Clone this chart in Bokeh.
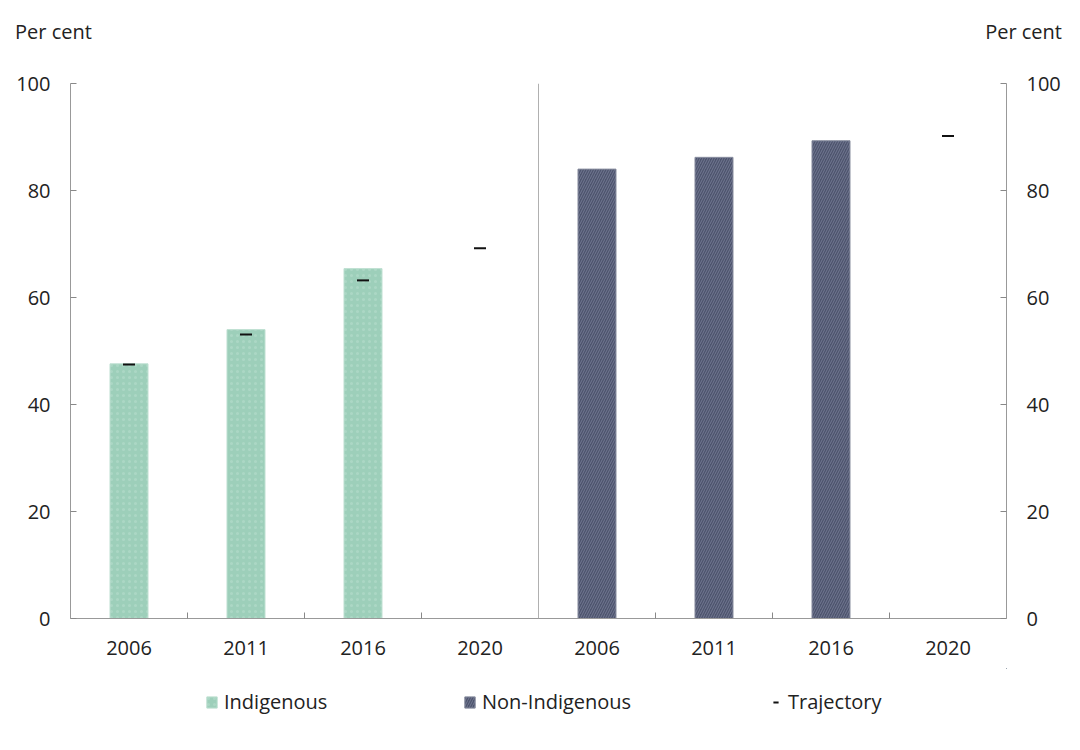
from bokeh.plotting import figure
from bokeh.models import (ColumnDataSource, FixedTicker, LinearAxis, Range1d, Span,
                          Legend, LegendItem, Div)
from bokeh.layouts import column
from bokeh.embed import file_html
from bokeh.resources import INLINE

# ---- data ----
years = ["2006", "2011", "2016", "2020"]
indigenous = [47.6, 54.0, 65.4]
non_indigenous = [84.0, 86.2, 89.3]
traj_indigenous = [47.5, 53.1, 63.2, 69.2]
traj_non_indigenous = [90.2]
y_ticks = [0, 20, 40, 60, 80, 100]
unit_label = "Per cent"
series_names = ["Indigenous", "Non-Indigenous", "Trajectory"]

FONT = "Open Sans"
FS = "20px"
TXT = "#222222"
IND_COLOR = "#9dcfba"
NON_COLOR = "#4d546d"
n = len(years)
ind_x = [i + 0.5 for i in range(len(indigenous))]
non_x = [n + i + 0.5 for i in range(len(non_indigenous))]
traj_ind_x = [i + 0.5 for i in range(len(traj_indigenous))]
traj_non_x = [n + 3 + 0.5]

ind_style = dict(fill_color=IND_COLOR, line_color="#bfe0d2", line_width=1, hatch_pattern=".",
                 hatch_color="#b9dfcf", hatch_scale=6, hatch_alpha=0.5)
non_style = dict(fill_color=NON_COLOR, line_color="#8a8fa0", line_width=1, hatch_pattern="/",
                 hatch_color="#7a809a", hatch_scale=5, hatch_weight=1, hatch_alpha=0.8)
traj_style = dict(marker="dash", size=12, line_color="#111111", line_width=2)

header = Div(text=(
    f'<div style="position:relative;width:1064px;height:44px;font-family:\'{FONT}\';'
    f'font-size:{FS};color:{TXT};line-height:26px;">'
    f'<span style="position:absolute;left:15px;top:19px;">{unit_label}</span>'
    f'<span style="position:absolute;right:2px;top:19px;">{unit_label}</span></div>'),
    width=1064, height=44, margin=0)

p = figure(width=1064, height=624, output_backend="svg", toolbar_location=None,
           x_range=Range1d(0, 2 * n), y_range=Range1d(0, 100),
           min_border_left=70, min_border_right=58, min_border_top=39, min_border_bottom=50,
           outline_line_color=None, background_fill_color="white", margin=0)
p.grid.grid_line_color = None

src_ind = ColumnDataSource(dict(x=ind_x, top=indigenous))
src_non = ColumnDataSource(dict(x=non_x, top=non_indigenous))
src_traj = ColumnDataSource(dict(x=traj_ind_x + traj_non_x, y=traj_indigenous + traj_non_indigenous))
p.vbar(x="x", top="top", width=0.325, source=src_ind, **ind_style)
p.vbar(x="x", top="top", width=0.325, source=src_non, **non_style)
p.scatter(x="x", y="y", source=src_traj, **traj_style)

# divider between panels
p.add_layout(Span(location=n, dimension="height", line_color="#b0b0b0", line_width=1))

# x axis: labels at centres, small ticks at category boundaries
labels = {i + 0.5: years[i % n] for i in range(2 * n)}
xax = p.xaxis[0]
xax.ticker = FixedTicker(ticks=list(labels.keys()),
                         minor_ticks=[b for b in range(1, 2 * n) if b != n])
xax.major_label_overrides = labels
xax.major_tick_line_color = None
xax.minor_tick_in = 6
xax.minor_tick_out = 0
xax.minor_tick_line_color = "#888888"
xax.axis_line_color = "#999999"
xax.major_label_text_font = FONT
xax.major_label_text_font_size = FS
xax.major_label_text_color = TXT
xax.major_label_standoff = 16

yl = p.yaxis[0]
yr = LinearAxis()
p.add_layout(yr, "right")
for ax in (yl, yr):
    ax.ticker = FixedTicker(ticks=y_ticks)
    ax.minor_tick_line_color = None
    ax.major_tick_in = 6
    ax.major_tick_out = 0
    ax.major_tick_line_color = "#888888"
    ax.axis_line_color = "#999999"
    ax.major_label_text_font = FONT
    ax.major_label_text_font_size = FS
    ax.major_label_text_color = TXT
    ax.major_label_standoff = 20

# legend in its own strip below the chart (same data, ranges keep marks out of view)
lg = figure(width=1064, height=68, output_backend="svg", toolbar_location=None,
            x_range=Range1d(-20, -19), y_range=Range1d(-20, -19),
            x_axis_type=None, y_axis_type=None,
            min_border=0, outline_line_color=None, margin=0)
lg.grid.grid_line_color = None
e_ind = lg.vbar(x="x", top="top", width=0.325, source=src_ind, **ind_style)
e_non = lg.vbar(x="x", top="top", width=0.325, source=src_non, **non_style)
e_traj = lg.scatter(x="x", y="y", source=src_traj, **traj_style)
for name, r, xpos in zip(series_names, [e_ind, e_non, e_traj], [135, 393, 699]):
    lg.add_layout(Legend(items=[LegendItem(label=name, renderers=[r])],
                         location=(xpos, 21), orientation="horizontal",
                         label_text_font=FONT, label_text_font_size=FS, label_text_color=TXT,
                         glyph_width=13, glyph_height=14, label_standoff=6,
                         border_line_color=None, background_fill_alpha=0,
                         padding=0, margin=0))

layout = column(header, p, lg, spacing=0, margin=0)
open("out.html", "w").write(file_html(layout, INLINE))
